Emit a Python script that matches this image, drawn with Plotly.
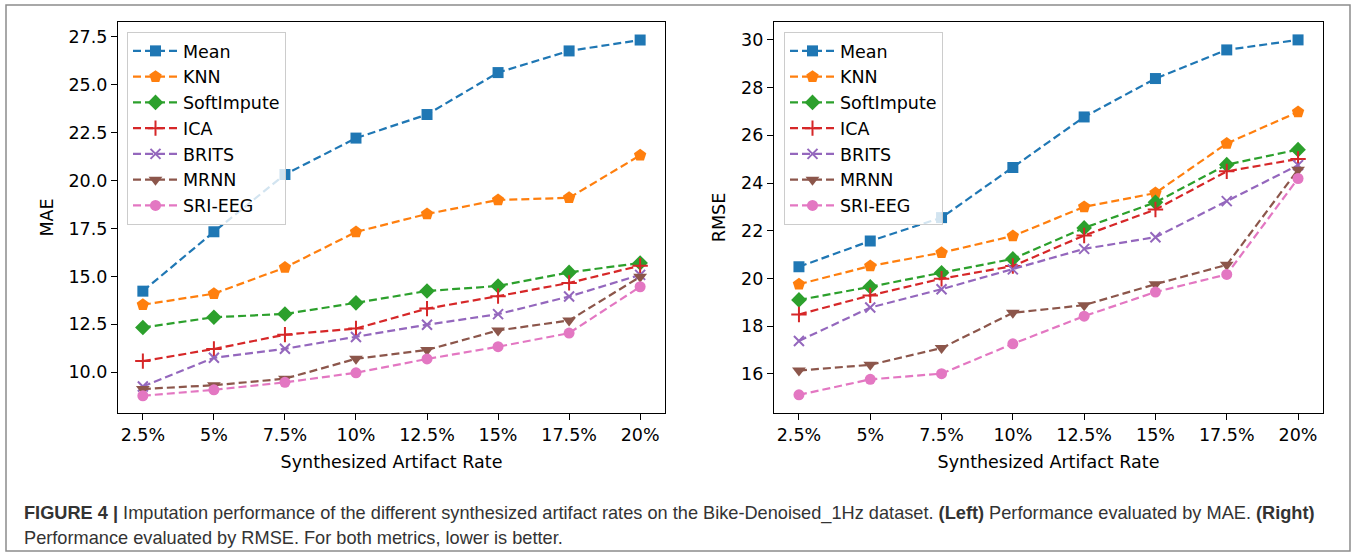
import plotly.graph_objects as go
from plotly.subplots import make_subplots

rates = ["2.5%", "5%", "7.5%", "10%", "12.5%", "15%", "17.5%", "20%"]
methods = ["Mean", "KNN", "SoftImpute", "ICA", "BRITS", "MRNN", "SRI-EEG"]

mae_mean = [14.23, 17.33, 20.32, 22.22, 23.45, 25.64, 26.77, 27.34]
mae_knn = [13.52, 14.10, 15.46, 17.32, 18.26, 18.99, 19.10, 21.32]
mae_soft = [12.33, 12.87, 13.04, 13.62, 14.24, 14.50, 15.21, 15.70]
mae_ica = [10.58, 11.21, 11.96, 12.28, 13.32, 13.97, 14.66, 15.56]
mae_brits = [9.25, 10.75, 11.22, 11.84, 12.48, 13.03, 13.95, 15.08]
mae_mrnn = [9.12, 9.32, 9.66, 10.70, 11.16, 12.18, 12.70, 14.98]
mae_sri = [8.77, 9.08, 9.47, 9.97, 10.69, 11.33, 12.04, 14.46]

rmse_mean = [20.49, 21.57, 22.55, 24.65, 26.77, 28.38, 29.58, 30.00]
rmse_knn = [19.76, 20.52, 21.08, 21.78, 23.00, 23.58, 25.66, 26.98]
rmse_soft = [19.10, 19.65, 20.24, 20.82, 22.12, 23.19, 24.77, 25.40]
rmse_ica = [18.49, 19.29, 19.99, 20.52, 21.80, 22.89, 24.49, 25.01]
rmse_brits = [17.38, 18.78, 19.55, 20.38, 21.24, 21.73, 23.24, 24.75]
rmse_mrnn = [16.14, 16.38, 17.08, 18.56, 18.88, 19.76, 20.57, 24.56]
rmse_sri = [15.12, 15.77, 16.01, 17.26, 18.42, 19.43, 20.17, 24.19]

caption_line1 = ("<b>FIGURE 4 |</b> Imputation performance of the different synthesized artifact rates "
                 "on the Bike-Denoised_1Hz dataset. <b>(Left)</b> Performance evaluated by MAE. <b>(Right)</b>")
caption_line2 = "Performance evaluated by RMSE. For both metrics, lower is better."

mae_series = [mae_mean, mae_knn, mae_soft, mae_ica, mae_brits, mae_mrnn, mae_sri]
rmse_series = [rmse_mean, rmse_knn, rmse_soft, rmse_ica, rmse_brits, rmse_mrnn, rmse_sri]

colors = ["#1f77b4", "#ff7f0e", "#2ca02c", "#d62728", "#9467bd", "#8c564b", "#e377c2"]
symbols = ["square", "pentagon", "diamond", "cross-thin", "x-thin", "triangle-down", "circle"]
msizes = [11, 13, 12, 11, 10, 12, 11]

W, H = 1357, 560
ML, MR, MT, MB = 118, 34, 22, 147
PW, PH = W - ML - MR, H - MT - MB

def px_x(p):
    return (p - ML) / PW

def px_y(p):
    return (H - MB - p) / PH

fig = make_subplots(rows=1, cols=2, horizontal_spacing=0.09)

FONT = "DejaVu Sans"
FS = 17.5

for col, series, lg in [(1, mae_series, "legend"), (2, rmse_series, "legend2")]:
    for i, name in enumerate(methods):
        thin = symbols[i].endswith("thin")
        fig.add_trace(go.Scatter(
            x=rates, y=series[i], name=name, mode="lines+markers",
            legend=lg, legendgroup=f"{lg}-{name}",
            line=dict(color=colors[i], width=2.2, dash="8px,4px"),
            marker=dict(symbol=symbols[i], size=msizes[i], color=colors[i],
                        line=dict(color=colors[i], width=2 if thin else 0)),
        ), row=1, col=col)

axis_common = dict(showline=True, linecolor="black", linewidth=1.3, mirror=True,
                   ticks="outside", ticklen=6, tickwidth=1.3, tickcolor="black",
                   showgrid=False, zeroline=False,
                   tickfont=dict(family=FONT, size=FS, color="black"))

fig.update_xaxes(**axis_common, type="category", range=[-0.35, 7.35],
                 title=dict(text="Synthesized Artifact Rate", standoff=11,
                            font=dict(family=FONT, size=FS, color="black")))
fig.update_xaxes(domain=[0, px_x(665)], row=1, col=1)
fig.update_xaxes(domain=[px_x(774), 1], row=1, col=2)

fig.update_yaxes(**axis_common)
fig.update_yaxes(range=[7.87, 28.28], dtick=2.5, tick0=0, tickformat=".1f",
                 title=dict(text="MAE", standoff=10, font=dict(family=FONT, size=FS, color="black")),
                 row=1, col=1)
fig.update_yaxes(range=[14.36, 30.75], dtick=2, tick0=0,
                 title=dict(text="RMSE", standoff=10, font=dict(family=FONT, size=FS, color="black")),
                 row=1, col=2)

legend_common = dict(bgcolor="rgba(255,255,255,0.8)", bordercolor="#cccccc", borderwidth=1,
                     font=dict(family=FONT, size=FS, color="black"), xanchor="left", yanchor="top",
                     tracegroupgap=0, itemwidth=45, traceorder="grouped")

CAP_FONT = dict(family="Liberation Sans", size=18.2, color="#333333")

fig.update_layout(
    width=W, height=H,
    margin=dict(l=ML, r=MR, t=MT, b=MB, autoexpand=False),
    paper_bgcolor="white", plot_bgcolor="white",
    legend=dict(x=px_x(127), y=px_y(32), **legend_common),
    legend2=dict(x=px_x(784), y=px_y(32), **legend_common),
    shapes=[dict(type="rect", xref="paper", yref="paper",
                 x0=px_x(6), x1=px_x(1350), y0=px_y(5), y1=px_y(551),
                 line=dict(color="#8c8c8c", width=1.5), fillcolor="rgba(0,0,0,0)", layer="below")],
    annotations=[
        dict(text=caption_line1, xref="paper", yref="paper", x=px_x(22), y=px_y(513),
             xanchor="left", yanchor="middle", showarrow=False, font=CAP_FONT),
        dict(text=caption_line2, xref="paper", yref="paper", x=px_x(22), y=px_y(538),
             xanchor="left", yanchor="middle", showarrow=False, font=CAP_FONT),
    ],
)

fig.write_html("out.html", config={"displayModeBar": False},
               post_script="document.body.style.margin='0';document.body.style.overflow='hidden';")
